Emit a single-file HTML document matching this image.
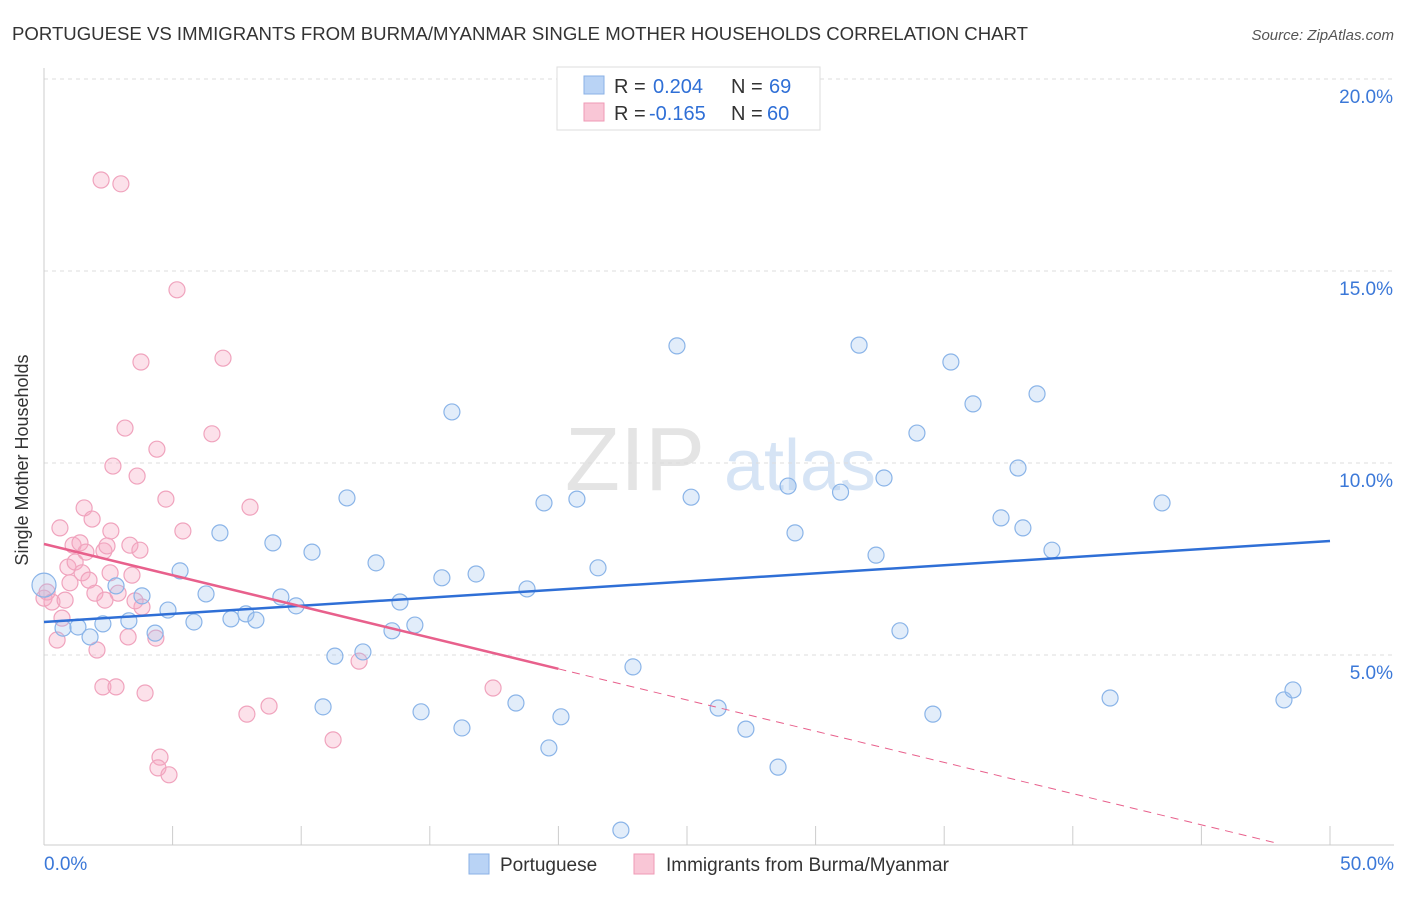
<!DOCTYPE html>
<html><head><meta charset="utf-8">
<style>
body{margin:0;background:#fff;font-family:"Liberation Sans",sans-serif;}
svg text{font-family:"Liberation Sans",sans-serif;}
</style></head>
<body>
<svg id="chart" width="1406" height="892" viewBox="0 0 1406 892">
<text x="12" y="40" font-size="18" fill="#333" textLength="1016" lengthAdjust="spacingAndGlyphs">PORTUGUESE VS IMMIGRANTS FROM BURMA/MYANMAR SINGLE MOTHER HOUSEHOLDS CORRELATION CHART</text>
<text x="1394" y="40" font-size="15" fill="#555" font-style="italic" text-anchor="end">Source: ZipAtlas.com</text>
<text x="24" y="456" font-size="18" fill="#333" text-anchor="middle" transform="rotate(-90 28 456)">Single Mother Households</text>
<g>
<text x="635" y="490" font-size="90" font-family="Liberation Serif" fill="#e4e4e4" text-anchor="middle">ZIP</text>
<text x="800" y="490" font-size="72" fill="#d6e4f5" text-anchor="middle">atlas</text>
</g>
<g id="grid"></g><g id="axes"></g><g id="lines"></g><g id="pts"></g>
<g>
<rect x="557" y="67" width="263" height="63" fill="#fff" stroke="#ddd"/>
<rect x="584" y="76" width="20" height="18" fill="#b9d3f5" stroke="#8ab0e6"/>
<rect x="584" y="103" width="20" height="18" fill="#f9c6d6" stroke="#ef9ab5"/>
<text x="614" y="93" font-size="20" fill="#333">R =</text>
<text x="653" y="93" font-size="20" fill="#2f6fd6">0.204</text>
<text x="731" y="93" font-size="20" fill="#333">N =</text>
<text x="769" y="93" font-size="20" fill="#2f6fd6">69</text>
<text x="614" y="120" font-size="20" fill="#333">R =</text>
<text x="649" y="120" font-size="20" fill="#2f6fd6">-0.165</text>
<text x="731" y="120" font-size="20" fill="#333">N =</text>
<text x="767" y="120" font-size="20" fill="#2f6fd6">60</text>
</g>
<g>
<rect x="469" y="854" width="20" height="20" fill="#b9d3f5" stroke="#8ab0e6"/>
<text x="500" y="871" font-size="19" fill="#333">Portuguese</text>
<rect x="634" y="854" width="20" height="20" fill="#f9c6d6" stroke="#ef9ab5"/>
<text x="666" y="871" font-size="19" fill="#333">Immigrants from Burma/Myanmar</text>
</g>
</svg>
<script>
const blueX=[0,0.74,1.32,1.79,2.29,2.8,3.3,3.81,4.32,4.82,5.29,5.83,6.3,6.84,7.27,7.85,8.24,8.9,9.21,9.8,10.42,10.85,11.31,11.78,12.4,12.91,13.53,13.84,14.42,14.66,15.47,15.86,16.25,16.8,18.35,18.78,19.44,19.63,20.1,20.72,21.54,22.43,22.9,24.61,25.16,26.21,27.29,28.54,28.93,29.2,30.97,31.69,32.35,32.66,33.28,33.94,34.56,35.26,36.12,37.21,37.87,38.06,38.61,39.19,41.45,43.47,48.21,48.56];
const blueY=[6.82,5.7,5.73,5.47,5.81,6.8,5.89,6.54,5.57,6.17,7.19,5.86,6.59,8.18,5.94,6.07,5.91,7.92,6.51,6.28,7.68,3.65,4.97,9.09,5.08,7.4,5.63,6.38,5.78,3.52,7.01,11.33,3.1,7.11,3.75,6.72,8.96,2.58,3.39,9.06,7.27,0.44,4.69,13.05,9.11,3.62,3.07,2.08,9.4,8.18,9.24,13.07,7.6,9.61,5.63,10.78,3.46,12.63,11.54,8.57,9.87,8.31,11.8,7.73,3.88,8.96,3.83,4.09];
const pinkX=[0,0.12,0.31,0.51,0.62,0.7,0.82,0.93,1.01,1.13,1.21,1.4,1.48,1.56,1.63,1.75,1.87,1.98,2.06,2.22,2.29,2.33,2.45,2.57,2.6,2.8,2.88,2.99,3.15,3.27,3.34,3.42,3.62,3.73,3.77,3.81,3.93,4.35,4.39,4.51,4.43,4.74,4.86,5.17,5.4,6.53,6.96,7.89,8.01,8.75,11.24,12.25,17.46,2.68,3.54,2.37];
const pinkY=[6.48,6.64,6.38,5.39,8.31,5.96,6.43,7.29,6.88,7.86,7.42,7.92,7.14,8.83,7.68,6.95,8.54,6.61,5.13,17.37,4.17,7.71,7.84,7.14,8.23,4.17,6.61,17.27,10.91,5.47,7.86,7.08,9.66,7.73,12.63,6.25,4.01,5.44,10.36,2.34,2.06,9.06,1.88,14.51,8.23,10.76,12.73,3.46,8.85,3.67,2.79,4.84,4.14,9.92,6.41,6.43];
const blueTrend=[5.86,7.97];
const pinkTrend=[7.89,4.64,0.09];
const yTicks=[5,10,15,20];
const xTickLabels=["0.0%","50.0%"];
const NS="http://www.w3.org/2000/svg";
const X=v=>44+v*25.72, Y=v=>847-v*38.4;
function mk(tag,attrs,parent){const e=document.createElementNS(NS,tag);for(const k in attrs)e.setAttribute(k,attrs[k]);document.getElementById(parent).appendChild(e);return e;}
yTicks.forEach(t=>{
 const l=mk('line',{x1:44,x2:1394,y1:Y(t),y2:Y(t),stroke:'#ddd','stroke-dasharray':'4 4'},'grid');
 
 
 const tx=mk('text',{x:1393,y:Y(t)+24,'font-size':19,fill:'#3b78d8','text-anchor':'end'},'axes');
 tx.textContent=t.toFixed(1)+'%';
 
 
});
let a=mk('line',{x1:44,x2:44,y1:68,y2:845,stroke:'#ccc'},'axes');


a=mk('line',{x1:44,x2:1394,y1:845,y2:845,stroke:'#ccc'},'axes');


for(let i=0;i<=10;i++){const t=mk('line',{x1:X(i*5),x2:X(i*5),y1:826,y2:845,stroke:'#ccc'},'axes');
 
 }
let t0=mk('text',{x:44,y:870,'font-size':19,fill:'#3b78d8'},'axes');t0.textContent=xTickLabels[0];


let t1=mk('text',{x:1394,y:870,'font-size':19,fill:'#3b78d8','text-anchor':'end'},'axes');t1.textContent=xTickLabels[1];


pinkX.forEach((x,i)=>{const c=mk('circle',{cx:X(x),cy:Y(pinkY[i]),r:8,fill:'rgba(246,170,196,0.35)',stroke:'#f0a3bd','stroke-width':1.2},'pts');
 
 });
blueX.forEach((x,i)=>{const c=mk('circle',{cx:X(x),cy:Y(blueY[i]),r:i===0?12:8,fill:'rgba(160,196,240,0.3)',stroke:'#8ab4e8','stroke-width':1.2},'pts');
 
 });
let bl=mk('line',{x1:X(0),y1:Y(blueTrend[0]),x2:X(50),y2:Y(blueTrend[1]),stroke:'#2f6fd6','stroke-width':2.5},'pts');


let pl=mk('line',{x1:X(0),y1:Y(pinkTrend[0]),x2:X(20),y2:Y(pinkTrend[1]),stroke:'#e8608c','stroke-width':2.5},'pts');


let pd=mk('line',{x1:X(20),y1:Y(pinkTrend[1]),x2:X(48),y2:Y(pinkTrend[2]),stroke:'#e8608c','stroke-width':1,'stroke-dasharray':'8 6'},'pts');


</script>
</body></html>
